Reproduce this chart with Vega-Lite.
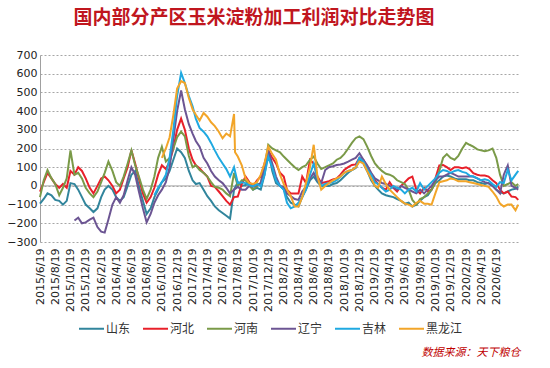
{
"$schema": "https://vega.github.io/schema/vega-lite/v6.json",
"width": 480, "height": 187,
"autosize": {"type": "none"},
"padding": {"left": 40, "top": 55, "right": 30, "bottom": 126},
"background": "white",
"title": {"text": "国内部分产区玉米淀粉加工利润对比走势图", "color": "#C0161E", "fontSize": 19, "font": "Noto Sans CJK SC", "fontWeight": "bold", "anchor": "middle", "frame": "group", "offset": 21, "dx": -26},
"config": {"view": {"stroke": null}, "font": "DejaVu Sans"},
"layer": [
{"data": {"values": [{}]}, "mark": {"type": "rule", "color": "#A6A6A6", "strokeWidth": 1}, "encoding": {"y": {"datum": 0, "type": "quantitative", "scale": {"domain": [-300, 700], "nice": false},
 "axis": {"values": [-300,-200,-100,0,100,200,300,400,500,600,700], "labelOverlap": false, "tickCount": 11, "title": null, "grid": true, "gridDash": [2,2], "gridColor": "#A6A6A6", "domain": true, "domainColor": "#A0A0A0", "ticks": false, "labelFontSize": 11, "labelColor": "#222", "labelPadding": 3, "labelFont": "DejaVu Sans"}}}},
{"data": {"values": [
{"d":"2015/6/19","山东":-95,"河北":-30,"河南":-60},
{"d":"2015/7/4","山东":-70,"河北":20,"河南":30},
{"d":"2015/7/19","山东":-40,"河北":70,"河南":85},
{"d":"2015/8/4","山东":-50,"河北":40,"河南":40},
{"d":"2015/8/19","山东":-75,"河北":10,"河南":10},
{"d":"2015/9/4","山东":-80,"河北":-10,"河南":-50},
{"d":"2015/9/19","山东":-100,"河北":10,"河南":-10},
{"d":"2015/10/4","山东":-80,"河北":-10,"河南":40},
{"d":"2015/10/19","山东":15,"河北":80,"河南":190},
{"d":"2015/11/4","山东":10,"河北":60,"河南":60,"辽宁":-185},
{"d":"2015/11/19","山东":-20,"河北":100,"河南":70,"辽宁":-170},
{"d":"2015/12/4","山东":-60,"河北":80,"河南":40,"辽宁":-200},
{"d":"2015/12/19","山东":-100,"河北":40,"河南":-10,"辽宁":-195},
{"d":"2016/1/4","山东":-120,"河北":-10,"河南":-40,"辽宁":-180},
{"d":"2016/1/19","山东":-140,"河北":-40,"河南":-60,"辽宁":-170},
{"d":"2016/2/4","山东":-120,"河北":0,"河南":-30,"辽宁":-220},
{"d":"2016/2/19","山东":-60,"河北":40,"河南":20,"辽宁":-245},
{"d":"2016/3/4","山东":-20,"河北":50,"河南":70,"辽宁":-250},
{"d":"2016/3/19","山东":0,"河北":30,"河南":130,"辽宁":-180},
{"d":"2016/4/4","山东":-20,"河北":0,"河南":80,"辽宁":-100},
{"d":"2016/4/19","山东":-60,"河北":-40,"河南":20,"辽宁":-60},
{"d":"2016/5/4","山东":-80,"河北":-20,"河南":0,"辽宁":-90},
{"d":"2016/5/19","山东":-60,"河北":40,"河南":50,"辽宁":-50},
{"d":"2016/6/4","山东":0,"河北":100,"河南":120,"辽宁":30},
{"d":"2016/6/19","山东":60,"河北":190,"河南":190,"辽宁":100},
{"d":"2016/7/4","山东":80,"河北":120,"河南":110,"辽宁":60},
{"d":"2016/7/19","山东":0,"河北":40,"河南":50,"辽宁":-30},
{"d":"2016/8/4","山东":-80,"河北":-40,"河南":-20,"辽宁":-120},
{"d":"2016/8/19","山东":-150,"河北":-90,"河南":-70,"辽宁":-195},
{"d":"2016/9/4","山东":-120,"河北":-60,"河南":-20,"辽宁":-150},
{"d":"2016/9/19","山东":-60,"河北":-10,"河南":50,"辽宁":-90,"吉林":-50},
{"d":"2016/10/4","山东":-20,"河北":60,"河南":150,"辽宁":-50,"吉林":-10},
{"d":"2016/10/19","山东":20,"河北":110,"河南":210,"辽宁":-20,"吉林":20,"黑龙江":150},
{"d":"2016/11/4","山东":40,"河北":90,"河南":130,"辽宁":20,"吉林":60,"黑龙江":200},
{"d":"2016/11/19","山东":80,"河北":130,"河南":150,"辽宁":100,"吉林":150,"黑龙江":260},
{"d":"2016/12/4","山东":140,"河北":200,"河南":200,"辽宁":250,"吉林":300,"黑龙江":380},
{"d":"2016/12/19","山东":200,"河北":300,"河南":260,"辽宁":400,"吉林":480,"黑龙江":520},
{"d":"2017/1/4","山东":180,"河北":360,"河南":290,"辽宁":510,"吉林":605,"黑龙江":560},
{"d":"2017/1/19","山东":150,"河北":300,"河南":265,"辽宁":410,"吉林":550,"黑龙江":550},
{"d":"2017/2/4","山东":80,"河北":200,"河南":160,"辽宁":330,"吉林":480,"黑龙江":470},
{"d":"2017/2/19","山东":30,"河北":140,"河南":100,"辽宁":280,"吉林":425,"黑龙江":410},
{"d":"2017/3/4","山东":10,"河北":110,"河南":110,"辽宁":240,"吉林":360,"黑龙江":380},
{"d":"2017/3/19","山东":15,"河北":95,"河南":85,"辽宁":210,"吉林":310,"黑龙江":350},
{"d":"2017/4/4","山东":-20,"河北":70,"河南":70,"辽宁":150,"吉林":290,"黑龙江":390},
{"d":"2017/4/19","山东":-55,"河北":50,"河南":50,"辽宁":120,"吉林":265,"黑龙江":370},
{"d":"2017/5/4","山东":-80,"河北":0,"河南":20,"辽宁":80,"吉林":230,"黑龙江":340},
{"d":"2017/5/19","山东":-110,"河北":-5,"河南":-5,"辽宁":50,"吉林":190,"黑龙江":320},
{"d":"2017/6/4","山东":-130,"河北":-30,"河南":-10,"辽宁":30,"吉林":150,"黑龙江":290},
{"d":"2017/6/19","山东":-145,"河北":-55,"河南":-20,"辽宁":15,"吉林":120,"黑龙江":255},
{"d":"2017/7/4","山东":-160,"河北":-80,"河南":-40,"辽宁":-10,"吉林":90,"黑龙江":280},
{"d":"2017/7/19","山东":-175,"河北":-100,"河南":-55,"辽宁":-40,"吉林":50,"黑龙江":265},
{"d":"2017/8/4","山东":-20,"河北":-60,"河南":70,"辽宁":-20,"吉林":100,"黑龙江":385},
{"d":"2017/8/8","黑龙江":180},
{"d":"2017/8/19","山东":20,"河北":-57,"河南":0,"辽宁":-5,"吉林":15,"黑龙江":157},
{"d":"2017/9/4","山东":0,"河北":10,"河南":30,"辽宁":-20,"吉林":20,"黑龙江":110},
{"d":"2017/9/19","山东":5,"河北":50,"河南":30,"辽宁":-20,"吉林":15,"黑龙江":40},
{"d":"2017/10/4","山东":10,"河北":20,"河南":0,"辽宁":0,"吉林":5,"黑龙江":15},
{"d":"2017/10/19","山东":-20,"河北":-3,"河南":-20,"辽宁":-3,"吉林":-3,"黑龙江":10},
{"d":"2017/11/4","山东":-10,"河北":30,"河南":0,"辽宁":5,"吉林":10,"黑龙江":20},
{"d":"2017/11/19","山东":-20,"河北":50,"河南":15,"辽宁":15,"吉林":-3,"黑龙江":60},
{"d":"2017/12/4","山东":60,"河北":120,"河南":100,"辽宁":100,"吉林":60,"黑龙江":120},
{"d":"2017/12/19","山东":190,"河北":190,"河南":220,"辽宁":190,"吉林":157,"黑龙江":210},
{"d":"2018/1/4","山东":80,"河北":150,"河南":200,"辽宁":120,"吉林":100,"黑龙江":170},
{"d":"2018/1/19","山东":15,"河北":120,"河南":190,"辽宁":50,"吉林":30,"黑龙江":140},
{"d":"2018/2/4","山东":0,"河北":70,"河南":180,"辽宁":0,"吉林":0,"黑龙江":60},
{"d":"2018/2/19","山东":-20,"河北":50,"河南":157,"辽宁":-5,"吉林":-20,"黑龙江":10},
{"d":"2018/3/4","山东":-60,"河北":-20,"河南":140,"辽宁":-40,"吉林":-90,"黑龙江":-20},
{"d":"2018/3/19","山东":-90,"河北":-40,"河南":120,"辽宁":-55,"吉林":-120,"黑龙江":-55},
{"d":"2018/4/4","山东":-100,"河北":-40,"河南":100,"辽宁":-70,"吉林":-110,"黑龙江":-110},
{"d":"2018/4/19","山东":-110,"河北":-40,"河南":85,"辽宁":-75,"吉林":-90,"黑龙江":-110},
{"d":"2018/5/4","山东":-60,"河北":50,"河南":100,"辽宁":-30,"吉林":-60,"黑龙江":-60},
{"d":"2018/5/19","山东":-20,"河北":15,"河南":110,"辽宁":-5,"吉林":-20,"黑龙江":15},
{"d":"2018/6/4","山东":30,"河北":140,"河南":140,"辽宁":40,"吉林":60,"黑龙江":100},
{"d":"2018/6/19","山东":50,"河北":120,"河南":157,"辽宁":70,"吉林":120,"黑龙江":220},
{"d":"2018/7/4","山东":20,"河北":50,"河南":120,"辽宁":30,"吉林":40,"黑龙江":50},
{"d":"2018/7/19","山东":0,"河北":15,"河南":90,"辽宁":15,"吉林":0,"黑龙江":-20},
{"d":"2018/8/4","山东":0,"河北":20,"河南":100,"辽宁":85,"吉林":10,"黑龙江":0},
{"d":"2018/8/19","山东":0,"河北":25,"河南":110,"辽宁":100,"吉林":15,"黑龙江":15},
{"d":"2018/9/4","山东":10,"河北":35,"河南":120,"辽宁":105,"吉林":20,"黑龙江":30},
{"d":"2018/9/19","山东":15,"河北":40,"河南":140,"辽宁":112,"吉林":30,"黑龙江":40},
{"d":"2018/10/4","山东":30,"河北":60,"河南":150,"辽宁":115,"吉林":50,"黑龙江":50},
{"d":"2018/10/19","山东":50,"河北":85,"河南":170,"辽宁":120,"吉林":70,"黑龙江":70},
{"d":"2018/11/4","山东":70,"河北":100,"河南":200,"辽宁":130,"吉林":80,"黑龙江":80},
{"d":"2018/11/19","山东":85,"河北":112,"河南":230,"辽宁":140,"吉林":85,"黑龙江":85},
{"d":"2018/12/4","山东":95,"河北":115,"河南":255,"辽宁":150,"吉林":100,"黑龙江":100},
{"d":"2018/12/19","山东":140,"河北":150,"河南":265,"辽宁":175,"吉林":150,"黑龙江":130},
{"d":"2019/1/4","山东":120,"河北":140,"河南":250,"辽宁":140,"吉林":130,"黑龙江":120},
{"d":"2019/1/19","山东":80,"河北":100,"河南":210,"辽宁":110,"吉林":90,"黑龙江":80},
{"d":"2019/2/4","山东":30,"河北":60,"河南":160,"辽宁":70,"吉林":60,"黑龙江":40},
{"d":"2019/2/19","山东":0,"河北":30,"河南":120,"辽宁":40,"吉林":20,"黑龙江":0},
{"d":"2019/3/4","山东":-20,"河北":10,"河南":100,"辽宁":30,"吉林":10,"黑龙江":-10},
{"d":"2019/3/19","山东":-40,"河北":-10,"河南":80,"辽宁":15,"吉林":-10,"黑龙江":50},
{"d":"2019/4/4","山东":-50,"河北":-20,"河南":65,"辽宁":10,"吉林":-30,"黑龙江":10},
{"d":"2019/4/19","山东":-55,"河北":20,"河南":60,"辽宁":0,"吉林":-20,"黑龙江":-20},
{"d":"2019/5/4","山东":-60,"河北":-10,"河南":50,"辽宁":-10,"吉林":0,"黑龙江":-40},
{"d":"2019/5/19","山东":-70,"河北":-30,"河南":30,"辽宁":-20,"吉林":-10,"黑龙江":-60},
{"d":"2019/6/4","山东":-80,"河北":0,"河南":20,"辽宁":0,"吉林":-20,"黑龙江":-80},
{"d":"2019/6/19","山东":-95,"河北":20,"河南":10,"辽宁":-10,"吉林":-40,"黑龙江":-95},
{"d":"2019/7/4","山东":-90,"河北":40,"河南":-20,"辽宁":-20,"吉林":-20,"黑龙江":-100},
{"d":"2019/7/19","山东":-110,"河北":50,"河南":-75,"辽宁":-30,"吉林":-10,"黑龙江":-110},
{"d":"2019/8/4","山东":-100,"河北":-20,"河南":-100,"辽宁":-40,"吉林":-30,"黑龙江":-90},
{"d":"2019/8/19","山东":-80,"河北":-40,"河南":-70,"辽宁":-20,"吉林":15,"黑龙江":-80},
{"d":"2019/9/4","山东":-60,"河北":-10,"河南":-60,"辽宁":-40,"吉林":-20,"黑龙江":-95},
{"d":"2019/9/19","山东":-50,"河北":-30,"河南":-40,"辽宁":-20,"吉林":0,"黑龙江":-95},
{"d":"2019/10/4","山东":-20,"河北":-20,"河南":-20,"辽宁":0,"吉林":20,"黑龙江":-100},
{"d":"2019/10/19","山东":15,"河北":40,"河南":20,"辽宁":30,"吉林":40,"黑龙江":-40},
{"d":"2019/11/4","山东":30,"河北":110,"河南":80,"辽宁":50,"吉林":70,"黑龙江":20},
{"d":"2019/11/19","山东":50,"河北":112,"河南":150,"辽宁":50,"吉林":85,"黑龙江":25},
{"d":"2019/12/4","山东":55,"河北":100,"河南":170,"辽宁":60,"吉林":80,"黑龙江":30},
{"d":"2019/12/19","山东":50,"河北":85,"河南":150,"辽宁":70,"吉林":70,"黑龙江":40},
{"d":"2020/1/4","山东":40,"河北":100,"河南":140,"辽宁":60,"吉林":80,"黑龙江":35},
{"d":"2020/1/19","山东":35,"河北":100,"河南":160,"辽宁":50,"吉林":85,"黑龙江":25},
{"d":"2020/2/4","山东":35,"河北":95,"河南":200,"辽宁":50,"吉林":75,"黑龙江":25},
{"d":"2020/2/19","山东":35,"河北":100,"河南":230,"辽宁":50,"吉林":70,"黑龙江":25},
{"d":"2020/3/4","山东":30,"河北":90,"河南":220,"辽宁":50,"吉林":55,"黑龙江":20},
{"d":"2020/3/19","山东":30,"河北":68,"河南":210,"辽宁":50,"吉林":50,"黑龙江":15},
{"d":"2020/4/4","山东":20,"河北":60,"河南":195,"辽宁":40,"吉林":40,"黑龙江":10},
{"d":"2020/4/19","山东":15,"河北":55,"河南":190,"辽宁":30,"吉林":30,"黑龙江":5},
{"d":"2020/5/4","山东":10,"河北":55,"河南":185,"辽宁":20,"吉林":35,"黑龙江":0},
{"d":"2020/5/19","山东":15,"河北":50,"河南":190,"辽宁":15,"吉林":30,"黑龙江":-5},
{"d":"2020/6/4","山东":0,"河北":30,"河南":200,"辽宁":0,"吉林":10,"黑龙江":-30},
{"d":"2020/6/19","山东":-20,"河北":15,"河南":150,"辽宁":-20,"吉林":-5,"黑龙江":-57},
{"d":"2020/7/4","山东":-35,"河北":-20,"河南":60,"辽宁":-40,"吉林":20,"黑龙江":-95},
{"d":"2020/7/19","山东":-40,"河北":-40,"河南":0,"辽宁":60,"吉林":15,"黑龙江":-110},
{"d":"2020/8/4","山东":-30,"河北":-30,"河南":10,"辽宁":110,"吉林":85,"黑龙江":-100},
{"d":"2020/8/19","山东":-20,"河北":-57,"河南":20,"辽宁":0,"吉林":30,"黑龙江":-100},
{"d":"2020/9/4","山东":-15,"河北":-60,"河南":0,"辽宁":-10,"吉林":60,"黑龙江":-130},
{"d":"2020/9/15","山东":-5,"河北":-75,"河南":10,"辽宁":-20,"吉林":80,"黑龙江":-100}
]},
"transform": [{"fold": ["山东","河北","河南","辽宁","吉林","黑龙江"], "as": ["s","v"]}, {"filter": "isValid(datum.v)"}],
"mark": {"type": "line", "interpolate": "linear"},
"encoding": {
"x": {"field": "d", "type": "temporal",
 "scale": {"domain": [{"year":2015,"month":6,"date":19},{"year":2020,"month":9,"date":22}]},
 "axis": {"values": [{"year":2015,"month":6,"date":19},{"year":2015,"month":8,"date":19},{"year":2015,"month":10,"date":19},{"year":2015,"month":12,"date":19},{"year":2016,"month":2,"date":19},{"year":2016,"month":4,"date":19},{"year":2016,"month":6,"date":19},{"year":2016,"month":8,"date":19},{"year":2016,"month":10,"date":19},{"year":2016,"month":12,"date":19},{"year":2017,"month":2,"date":19},{"year":2017,"month":4,"date":19},{"year":2017,"month":6,"date":19},{"year":2017,"month":8,"date":19},{"year":2017,"month":10,"date":19},{"year":2017,"month":12,"date":19},{"year":2018,"month":2,"date":19},{"year":2018,"month":4,"date":19},{"year":2018,"month":6,"date":19},{"year":2018,"month":8,"date":19},{"year":2018,"month":10,"date":19},{"year":2018,"month":12,"date":19},{"year":2019,"month":2,"date":19},{"year":2019,"month":4,"date":19},{"year":2019,"month":6,"date":19},{"year":2019,"month":8,"date":19},{"year":2019,"month":10,"date":19},{"year":2019,"month":12,"date":19},{"year":2020,"month":2,"date":19},{"year":2020,"month":4,"date":19},{"year":2020,"month":6,"date":19}],
  "format": "%Y/%-m/%-d", "labelAngle": -90, "labelFontSize": 11, "labelColor": "#222", "labelPadding": 6, "labelFont": "DejaVu Sans", "labelOverlap": false, "labelBound": false, "labelFlush": false,
  "grid": false, "domain": false, "ticks": false,
  "title": "数据来源：天下粮仓", "titleColor": "#C00000", "titleFontStyle": "italic", "titleFontSize": 11, "titleFontWeight": "normal", "titleFont": "Noto Sans CJK SC", "titleAnchor": "end", "titlePadding": 35}},
"y": {"field": "v", "type": "quantitative",
 "scale": {"domain": [-300, 700], "nice": false},
 "axis": {"values": [-300,-200,-100,0,100,200,300,400,500,600,700], "labelOverlap": false, "tickCount": 11, "title": null, "grid": true, "gridDash": [2,2], "gridColor": "#A6A6A6", "domain": true, "domainColor": "#A0A0A0", "ticks": false, "labelFontSize": 11, "labelColor": "#222", "labelPadding": 3, "labelFont": "DejaVu Sans"}},
"color": {"field": "s", "type": "nominal",
 "scale": {"domain": ["山东","河北","河南","辽宁","吉林","黑龙江"], "range": ["#31859C","#E8202A","#7A9A48","#6C5593","#1FA9E1","#F2A529"]},
 "legend": {"title": null, "orient": "none", "legendX": 38, "legendY": 260, "direction": "horizontal", "symbolType": "stroke", "symbolSize": 625, "symbolStrokeWidth": 2, "labelFontSize": 12, "labelFont": "Noto Sans CJK SC", "labelColor": "#333", "labelOffset": 1, "columnPadding": 8}},
"strokeWidth": {"field": "s", "type": "nominal", "scale": {"domain": ["山东","河北","河南","辽宁","吉林","黑龙江"], "range": [2,2,2,3,2,2]}, "legend": null}
}}
]
}
